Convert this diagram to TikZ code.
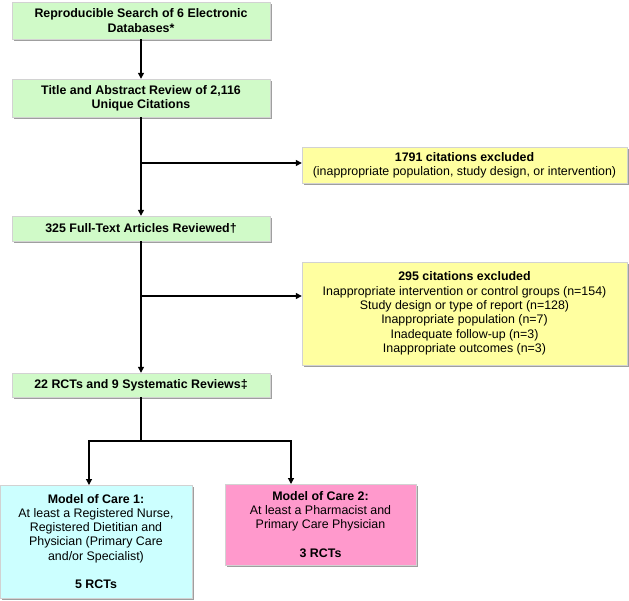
\documentclass[tikz,border=0pt]{standalone}
\usepackage{fontspec}
\setmainfont{Liberation Sans}
\usetikzlibrary{arrows.meta,shadows}

\definecolor{stepgreen}{RGB}{208,250,200}
\definecolor{exclyellow}{RGB}{255,255,160}
\definecolor{carecyan}{RGB}{204,255,255}
\definecolor{carepink}{RGB}{255,153,204}

\tikzset{
  flowbox/.style={draw=gray!35, line width=0.4pt, align=center, inner sep=0pt,
    font=\fontsize{12.4}{14.3}\selectfont,
    drop shadow={shadow xshift=1.5pt, shadow yshift=-1.5pt, fill=gray!75, opacity=1}},
  stepbox/.style={flowbox, fill=stepgreen, font=\fontsize{12.4}{14.3}\selectfont\bfseries,
    minimum width=258pt},
  exclbox/.style={flowbox, fill=exclyellow, minimum width=325pt},
  carebox/.style={flowbox, minimum width=192pt},
  flow/.style={line width=1.2pt, -{Triangle[length=6pt,width=6pt]}}
}

\begin{document}
\begin{tikzpicture}[x=1pt, y=-1pt]
\useasboundingbox (0,0) rectangle (629,600);
\node[stepbox, minimum height=37pt] (search) at (141,20.5) {Reproducible Search of 6 Electronic\\Databases*};
\node[stepbox, minimum height=38pt] (titleabs) at (141,98) {Title and Abstract Review of 2,116\\Unique Citations};
\node[stepbox, minimum height=25pt] (fulltext) at (141,228.5) {325 Full-Text Articles Reviewed\textdagger};
\node[stepbox, minimum height=24pt] (rcts) at (141,385) {22 RCTs and 9 Systematic Reviews\textdaggerdbl};
\node[exclbox, minimum height=36pt] (excl1) at (464.5,165) {\textbf{1791 citations excluded}\\(inappropriate population, study design, or intervention)};
\node[exclbox, minimum height=103pt] (excl2) at (464.5,313.5) {\textbf{295 citations excluded}\\Inappropriate intervention or control groups (n=154)\\Study design or type of report (n=128)\\Inappropriate population (n=7)\\Inadequate follow-up (n=3)\\Inappropriate outcomes (n=3)};
\node[carebox, fill=carecyan, minimum height=113pt] (care1) at (96,541.5) {\textbf{Model of Care 1:}\\At least a Registered Nurse,\\Registered Dietitian and\\Physician (Primary Care\\and/or Specialist)\\[14.3pt]\textbf{5 RCTs}};
\node[carebox, fill=carepink, minimum width=191pt, minimum height=81pt] (care2) at (320.5,524.5) {\textbf{Model of Care 2:}\\At least a Pharmacist and\\Primary Care Physician\\[14.3pt]\textbf{3 RCTs}};

\coordinate (b1) at (141,163);
\coordinate (b2) at (141,296);
\coordinate (split) at (141,441);
\coordinate (c1top) at (89,485);
\coordinate (c2top) at (291,484);

\draw[flow] (search) -- (titleabs);
\draw[flow] (titleabs) -- (fulltext);
\draw[flow] (b1) -- (b1 -| excl1.west);
\draw[flow] (fulltext) -- (rcts);
\draw[flow] (b2) -- (b2 -| excl2.west);
\draw[line width=1.2pt] (rcts) -- (split);
\draw[flow] (split) -| (c1top);
\draw[flow] (split) -| (c2top);
\end{tikzpicture}
\end{document}
